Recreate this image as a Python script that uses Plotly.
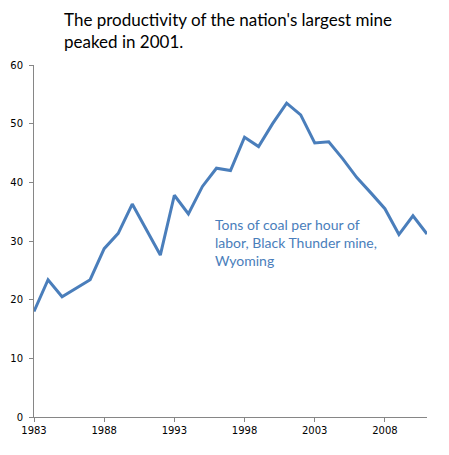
import plotly.graph_objects as go

# tons of coal per hour of labor, Black Thunder mine
years = list(range(1983, 2012))
tons = [18.0, 23.4, 20.5, 21.9, 23.4, 28.7, 31.3, 36.3, 32.0, 27.6,
        37.8, 34.6, 39.3, 42.4, 42.0, 47.7, 46.1, 50.0, 53.5, 51.5,
        46.7, 46.9, 44.0, 40.8, 38.2, 35.5, 31.1, 34.3, 31.2]
xticks = [1983, 1988, 1993, 1998, 2003, 2008]
yticks = [0, 10, 20, 30, 40, 50, 60]

title_txt = "The productivity of the nation's largest mine<br>peaked in 2001."
note_txt = "Tons of coal per hour of<br>labor, Black Thunder mine,<br>Wyoming"

fig = go.Figure()
fig.add_trace(go.Scatter(x=years, y=tons, mode="lines",
                         line=dict(color="#4a7ebb", width=3),
                         hoverinfo="x+y"))

# title as annotation so it sits where the original does
fig.add_annotation(text=title_txt, x=0.071, y=1.166, xref="paper", yref="paper",
                   xanchor="left", yanchor="top", align="left", showarrow=False,
                   font=dict(family="Lato, Open Sans, sans-serif", size=17, color="black"))

fig.add_annotation(text=note_txt, x=1995.75, y=34.6, xref="x", yref="y",
                   xanchor="left", yanchor="top", align="left", showarrow=False,
                   font=dict(family="Lato, Open Sans, sans-serif", size=14, color="#4a7ebb"))

fig.update_layout(
    width=449, height=455,
    margin=dict(l=26, r=30, t=57, b=46),
    paper_bgcolor="white", plot_bgcolor="white",
    showlegend=False,
)
fig.update_xaxes(range=[1983, 2011], tickvals=xticks, showgrid=False, zeroline=False,
                 showline=True, linecolor="#868686", linewidth=1, automargin=False,
                 ticks="outside", ticklen=4, tickcolor="#868686",
                 tickfont=dict(family="DejaVu Sans, sans-serif", size=10, color="black"))
fig.update_yaxes(range=[0, 60], tickvals=yticks, showgrid=False, zeroline=False,
                 showline=True, linecolor="#868686", linewidth=1, automargin=False,
                 ticks="outside", ticklen=4, tickcolor="#868686", ticklabelstandoff=4,
                 tickfont=dict(family="DejaVu Sans, sans-serif", size=10, color="black"))

fig.write_html("out.html")
